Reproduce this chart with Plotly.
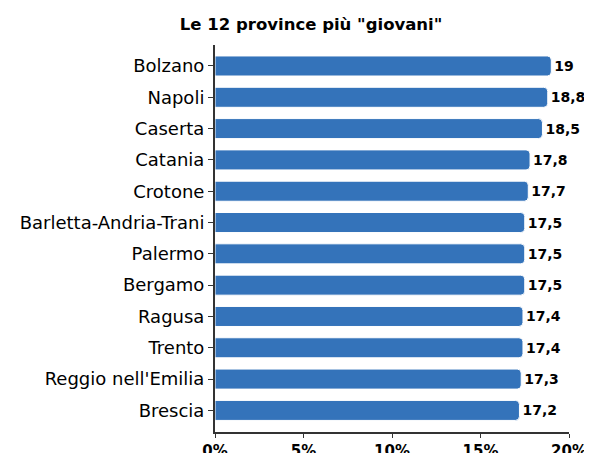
import plotly.graph_objects as go

provinces = ["Bolzano", "Napoli", "Caserta", "Catania", "Crotone",
             "Barletta-Andria-Trani", "Palermo", "Bergamo", "Ragusa",
             "Trento", "Reggio nell'Emilia", "Brescia"]
values = [19, 18.8, 18.5, 17.8, 17.7, 17.5, 17.5, 17.5, 17.4, 17.4, 17.3, 17.2]
value_labels = [str(v).replace(".", ",") for v in values]
tick_vals = [0, 5, 10, 15, 20]
tick_text = ["0%", "5%", "10%", "15%", "20%"]
title_text = 'Le 12 province più "giovani"'

fig = go.Figure(go.Bar(
    x=values, y=provinces, orientation="h",
    text=value_labels, textposition="outside",
    textfont=dict(family="DejaVu Sans", size=14, color="#000000", weight="bold"),
    cliponaxis=False,
    marker=dict(color="#3473BA", cornerradius=4,
                line=dict(color="#ffffff", width=1)),
    width=0.64,
))

fig.update_layout(
    width=592, height=453,
    margin=dict(l=207, r=31, t=37, b=29),
    paper_bgcolor="#ffffff", plot_bgcolor="#ffffff",
    showlegend=False,
    title=dict(text=title_text, x=0.512, xanchor="center", y=0.965, yanchor="middle",
               font=dict(family="DejaVu Sans", size=16.5, color="#000000", weight="bold")),
    xaxis=dict(range=[0, 20], tickvals=tick_vals, ticktext=tick_text, automargin=False,
               showgrid=False, zeroline=False, showline=True, linecolor="#333333",
               linewidth=2, ticks="outside", ticklen=4, tickcolor="#333333",
               tickfont=dict(family="DejaVu Sans", size=15, color="#000000", weight="bold")),
    yaxis=dict(categoryorder="array", categoryarray=provinces, automargin=False,
               range=[11.69, -0.67], showgrid=False, zeroline=False,
               showline=True, linecolor="#333333", linewidth=2,
               ticks="outside", ticklen=5, tickcolor="#333333",
               tickfont=dict(family="DejaVu Sans", size=18, color="#000000")),
)

fig.write_html("out.html")
